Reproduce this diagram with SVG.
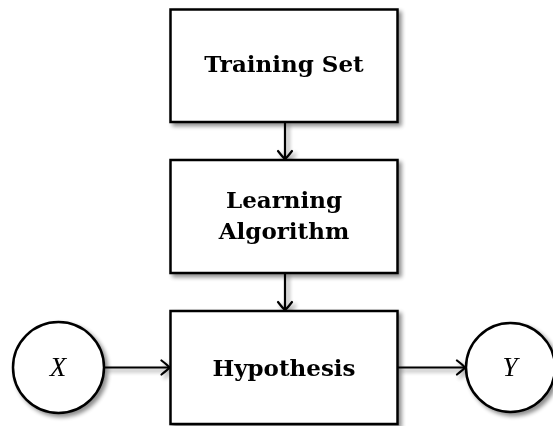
<svg xmlns="http://www.w3.org/2000/svg" width="553" height="426" viewBox="0 0 553 426">
<style>
.box{fill:#fff;stroke:#000;stroke-width:2.5}
.lbl{font-family:"DejaVu Serif","Liberation Serif",serif;font-weight:bold;font-size:23px;text-anchor:middle;fill:#000}
.math{font-family:"Liberation Serif","DejaVu Serif",serif;font-style:italic;font-size:27px;text-anchor:middle;fill:#000}
.edge{stroke:#000;stroke-width:2.2;fill:none}
</style>
<defs>
<filter id="sh" x="-20%" y="-20%" width="150%" height="150%">
<feGaussianBlur in="SourceAlpha" stdDeviation="2"/>
<feOffset dx="3" dy="3" result="b"/>
<feComponentTransfer><feFuncA type="linear" slope="0.45"/></feComponentTransfer>
<feMerge><feMergeNode/><feMergeNode in="SourceGraphic"/></feMerge>
</filter>
<marker id="to" markerUnits="userSpaceOnUse" viewBox="-10 -9 12 18" refX="0" refY="0" markerWidth="12" markerHeight="18" orient="auto">
<path d="M-8,-7 Q-1.5,-2 0,0 Q-1.5,2 -8,7" fill="none" stroke="#000" stroke-width="2.2" stroke-linecap="round"/>
</marker>
</defs>
<g id="connectors" filter="url(#sh)">
<line class="edge" x1="285" y1="122" x2="285" y2="159" marker-end="url(#to)"/>
<line class="edge" x1="285" y1="273" x2="285" y2="310" marker-end="url(#to)"/>
<line class="edge" x1="104" y1="367.5" x2="169.5" y2="367.5" marker-end="url(#to)"/>
<line class="edge" x1="397.5" y1="367.5" x2="465" y2="367.5" marker-end="url(#to)"/>
</g>
<g id="training-set" filter="url(#sh)">
<rect class="box" x="170.5" y="9.5" width="227" height="112.5"/>
<text class="lbl" x="284" y="72">Training Set</text>
</g>
<g id="learning-algorithm" filter="url(#sh)">
<rect class="box" x="170.5" y="160" width="227" height="113"/>
<text class="lbl" x="284" y="208">Learning</text>
<text class="lbl" x="284" y="239">Algorithm</text>
</g>
<g id="hypothesis" filter="url(#sh)">
<rect class="box" x="170.5" y="311" width="227" height="113"/>
<text class="lbl" x="284" y="376">Hypothesis</text>
</g>
<g id="x" filter="url(#sh)">
<circle class="box" cx="58.5" cy="367.5" r="45.5"/>
<text class="math" x="58" y="376">X</text>
</g>
<g id="y" filter="url(#sh)">
<circle class="box" cx="510.5" cy="367.5" r="44.5"/>
<text class="math" x="510" y="376">Y</text>
</g>
</svg>
